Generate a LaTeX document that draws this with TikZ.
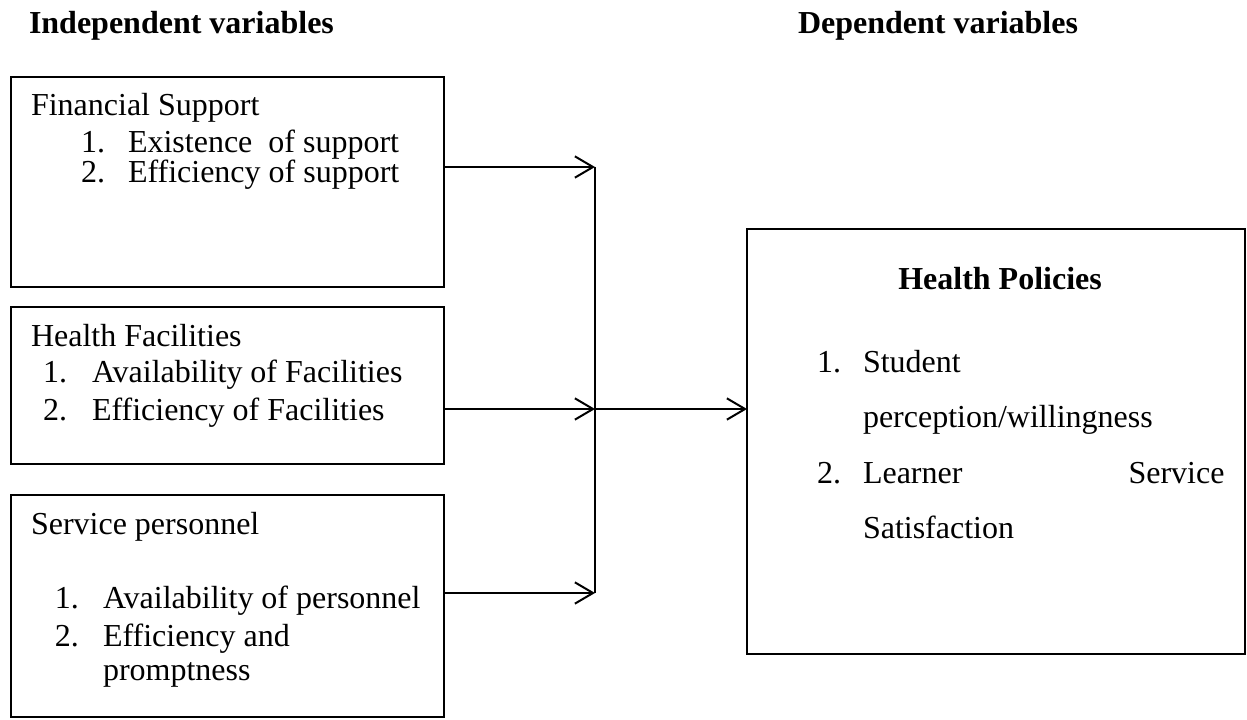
\documentclass[tikz,border=0pt]{standalone}
\usepackage{fontspec}
\setmainfont{Liberation Serif}
\usetikzlibrary{arrows.meta}
\begin{document}
\begin{tikzpicture}[x=0.375pt,y=-0.375pt,
  every node/.style={font=\fontsize{12}{14}\selectfont},
  box/.style={draw, line width=0.5pt, rectangle, inner sep=0pt, outer sep=0pt},
  txt/.style={anchor=base west, inner sep=0pt, outer sep=0pt},
  conn/.style={line width=0.75pt},
  arr/.style={line width=0.75pt, -{Straight Barb[length=6.8pt,width=8pt,line width=0.75pt]}}]
\useasboundingbox (0,0) rectangle (1247,720);
% boxes
\node[box, minimum width=162.4pt, minimum height=78.75pt] (b1) at (227.5,182) {};
\node[box, minimum width=162.4pt, minimum height=58.9pt] (b2) at (227.5,385.5) {};
\node[box, minimum width=162.4pt, minimum height=83.25pt] (b3) at (227.5,606) {};
\node[box, minimum width=186.75pt, minimum height=159.4pt] (hp) at (996,441.5) {};
% titles
\node[txt, font=\fontsize{12}{14}\selectfont\bfseries] (t1) at (29,34) {Independent variables};
\node[txt, font=\fontsize{12}{14}\selectfont\bfseries] (t2) at (798,34) {Dependent variables};
% box 1 text
\node[txt] (f0) at (31,116) {Financial Support};
\node[txt] (f1n) at (81,153) {1.};
\node[txt] (f1) at (128,153) {Existence\ \ of support};
\node[txt] (f2n) at (81,183) {2.};
\node[txt] (f2) at (128,183) {Efficiency of support};
% box 2 text
\node[txt] (h0) at (31,346) {Health Facilities};
\node[txt] (h1n) at (43,382) {1.};
\node[txt] (h1) at (92,382) {Availability of Facilities};
\node[txt] (h2n) at (43,420) {2.};
\node[txt] (h2) at (92,420) {Efficiency of Facilities};
% box 3 text
\node[txt] (s0) at (31,534) {Service personnel};
\node[txt] (s1n) at (55,608) {1.};
\node[txt] (s1) at (103,608) {Availability of personnel};
\node[txt] (s2n) at (55,646) {2.};
\node[txt] (s2) at (103,646) {Efficiency and};
\node[txt] (s3) at (103,680) {promptness};
% right box text
\node[anchor=base, inner sep=0pt, font=\fontsize{12}{14}\selectfont\bfseries] (p0) at (1000,289) {Health Policies};
\node[txt] (p1n) at (817,373) {1.};
\node[txt] (p1) at (863,373) {Student};
\node[txt] (p2) at (863,428) {perception/willingness};
\node[txt] (p3n) at (817,483) {2.};
\node[txt] (p3) at (863,483) {Learner};
\node[anchor=base east, inner sep=0pt] (p4) at (1225,483) {Service};
\node[txt] (p5) at (863,538) {Satisfaction};
% junctions
\coordinate (j1) at (595,167);
\coordinate (j2) at (595,409);
\coordinate (j3) at (595,593);
% connectors
\draw[conn] (j1) -- (j3);
\draw[arr] (b1.east |- j1) -- (j1);
\draw[arr] (b2.east |- j2) -- (j2);
\draw[arr] (b3.east |- j3) -- (j3);
\draw[arr] (j2) -- (hp.west |- j2);
\end{tikzpicture}
\end{document}
